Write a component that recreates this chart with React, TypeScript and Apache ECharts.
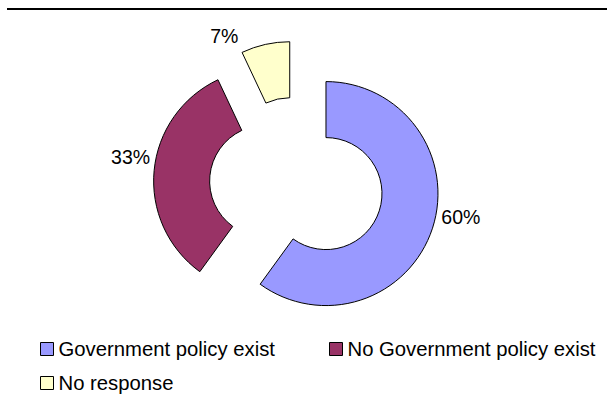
import React, { useEffect, useRef } from "react";
import * as echarts from "echarts";

const categories = ["Government policy exist", "No Government policy exist", "No response"];
const values = [60, 33, 7];
const colors = ["#9999FF", "#993366", "#FFFFCC"];

const FONT = "'Liberation Sans', Arial, sans-serif";
// small label nudges (layout only) to mimic the original label placement
const labelNudge = [
  [0, -12],
  [5, -13],
  [-21, -5],
];

export default function App() {
  const ref = useRef<HTMLDivElement>(null);
  useEffect(() => {
    if (!ref.current) return;
    const chart = echarts.init(ref.current, null, { renderer: "svg" });
    const legendBase = {
      orient: "horizontal",
      icon: "rect",
      itemWidth: 13,
      itemHeight: 13,
      padding: 0,
      selectedMode: false,
      textStyle: { fontSize: 20.3, color: "#000", fontFamily: FONT },
      itemStyle: { borderColor: "#000", borderWidth: 1 },
    };
    chart.setOption({
      animation: false,
      backgroundColor: "#fff",
      textStyle: { fontFamily: FONT },
      graphic: [
        {
          type: "line",
          shape: { x1: 7, y1: 9, x2: 607, y2: 9 },
          style: { stroke: "#000", lineWidth: 2 },
        },
      ],
      legend: [
        { ...legendBase, data: [categories[0]], left: 40, top: 339 },
        { ...legendBase, data: [categories[1]], left: 329, top: 339 },
        { ...legendBase, data: [categories[2]], left: 40, top: 373 },
      ],
      series: [
        {
          type: "pie",
          center: [296.5, 184],
          radius: [56, 112],
          startAngle: 90,
          clockwise: true,
          selectedMode: "multiple",
          selectedOffset: 31,
          avoidLabelOverlap: false,
          itemStyle: { borderColor: "#000", borderWidth: 1 },
          label: {
            show: true,
            position: "outside",
            formatter: "{c}%",
            fontSize: 19.5,
            color: "#000",
            fontFamily: FONT,
          },
          labelLine: { show: false, length: 4, length2: 0 },
          labelLayout: (params: any) => ({
            dx: labelNudge[params.dataIndex][0],
            dy: labelNudge[params.dataIndex][1],
          }),
          emphasis: { disabled: true },
          select: {
            itemStyle: { borderColor: "#000", borderWidth: 1 },
            label: { show: true, color: "#000" },
          },
          data: categories.map((name, i) => ({
            name,
            value: values[i],
            selected: true,
            itemStyle: { color: colors[i] },
            select: { itemStyle: { color: colors[i], borderColor: "#000", borderWidth: 1 } },
          })),
        },
      ],
    });
    return () => chart.dispose();
  }, []);
  return (
    <div
      ref={ref}
      style={{ position: "fixed", left: 0, top: 0, width: 607, height: 406 }}
    />
  );
}
